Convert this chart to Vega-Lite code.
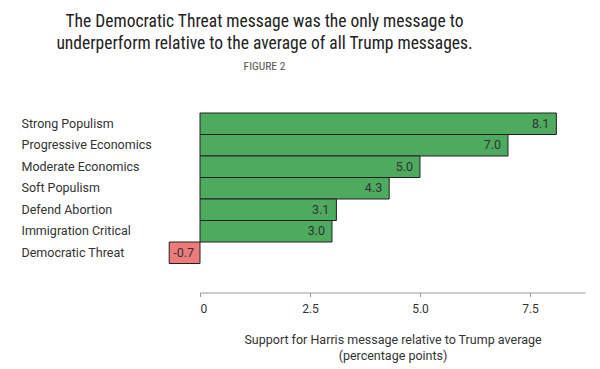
{
  "$schema": "https://vega.github.io/schema/vega-lite/v6.json",
  "width": 385,
  "height": 150.5,
  "padding": {"left": 21, "top": 12, "right": 5, "bottom": 5},
  "background": "white",
  "config": {"view": {"stroke": null}, "font": "Roboto"},
  "title": {
    "text": ["The Democratic Threat message was the only message to", "underperform relative to the average of all Trump messages."],
    "subtitle": "FIGURE 2",
    "anchor": "middle",
    "frame": "group",
    "dx": -128,
    "font": "Roboto Condensed, Liberation Sans Narrow, Arial Narrow, serif",
    "fontSize": 17.5,
    "fontWeight": "normal",
    "color": "#222",
    "lineHeight": 22,
    "subtitleFont": "Roboto Condensed, Liberation Sans Narrow, Arial Narrow, serif",
    "subtitleFontSize": 11.5,
    "subtitleColor": "#555",
    "subtitlePadding": 9,
    "offset": 40
  },
  "data": {
    "values": [
      {"message": "Strong Populism", "value": 8.1},
      {"message": "Progressive Economics", "value": 7.0},
      {"message": "Moderate Economics", "value": 5.0},
      {"message": "Soft Populism", "value": 4.3},
      {"message": "Defend Abortion", "value": 3.1},
      {"message": "Immigration Critical", "value": 3.0},
      {"message": "Democratic Threat", "value": -0.7}
    ]
  },
  "encoding": {
    "y": {
      "field": "message",
      "type": "nominal",
      "sort": null,
      "scale": {"paddingInner": 0, "paddingOuter": 0},
      "axis": {
        "title": null,
        "domain": false,
        "ticks": false,
        "labelAlign": "left",
        "labelPadding": 179,
        "labelFont": "Roboto",
        "labelFontSize": 12.5,
        "labelColor": "#333"
      }
    }
  },
  "layer": [
    {
      "mark": {"type": "bar", "stroke": "#222", "strokeWidth": 1},
      "encoding": {
        "x": {
          "field": "value",
          "type": "quantitative",
          "scale": {"domain": [0, 8.75], "nice": false, "zero": false},
          "axis": {
            "values": [0, 2.5, 5, 7.5],
            "labelExpr": "datum.value === 0 ? '0' : format(datum.value, '.1f')",
            "grid": false,
            "offset": 29,
            "domainColor": "#999",
            "tickColor": "#999",
            "tickSize": 4,
            "labelFont": "Roboto",
            "labelFontSize": 12,
            "labelColor": "#333",
            "labelPadding": 7,
            "title": ["Support for Harris message relative to Trump average", "(percentage points)"],
            "titleFont": "Roboto",
            "titleFontSize": 12.5,
            "titleFontWeight": "normal",
            "titleColor": "#333",
            "titleLineHeight": 16,
            "titlePadding": 19
          }
        },
        "color": {
          "condition": {"test": "datum.value < 0", "value": "#EE7B7B"},
          "value": "#4DAA5F"
        }
      }
    },
    {
      "transform": [{"filter": "datum.value >= 0"}],
      "mark": {"type": "text", "align": "right", "dx": -7, "font": "Roboto", "fontSize": 12.5, "color": "#333"},
      "encoding": {
        "x": {"field": "value", "type": "quantitative"},
        "text": {"field": "value", "type": "quantitative", "format": ".1f"}
      }
    },
    {
      "transform": [{"filter": "datum.value < 0"}],
      "mark": {"type": "text", "align": "left", "dx": 4, "font": "Roboto", "fontSize": 12.5, "color": "#333"},
      "encoding": {
        "x": {"field": "value", "type": "quantitative"},
        "text": {"field": "value", "type": "nominal"}
      }
    }
  ]
}
